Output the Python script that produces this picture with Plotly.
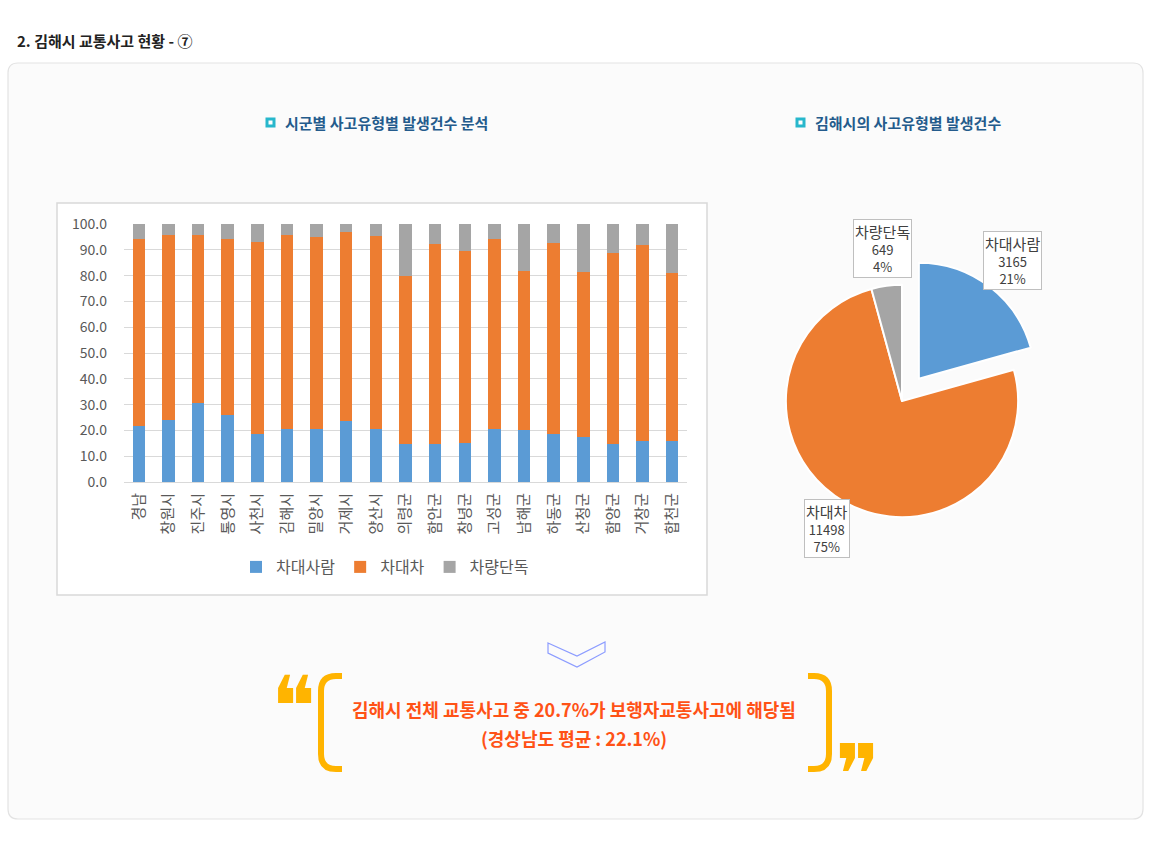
import plotly.graph_objects as go

# ---------------- data ----------------
regions = ["경남", "창원시", "진주시", "통영시", "사천시", "김해시", "밀양시", "거제시", "양산시",
           "의령군", "함안군", "창녕군", "고성군", "남해군", "하동군", "산청군", "함양군", "거창군", "합천군"]
car_person = [21.9, 24.1, 30.6, 25.8, 18.7, 20.7, 20.6, 23.5, 20.4,
              14.7, 14.7, 15.1, 20.4, 20.0, 18.7, 17.4, 14.7, 15.7, 15.7]
car_car = [72.3, 71.8, 65.3, 68.4, 74.2, 74.9, 74.4, 73.5, 75.0,
           65.3, 77.6, 74.4, 73.8, 61.8, 73.8, 64.1, 73.9, 76.2, 65.2]
car_single = [5.8, 4.1, 4.1, 5.8, 7.1, 4.4, 5.0, 3.0, 4.6,
              20.0, 7.7, 10.5, 5.8, 18.2, 7.5, 18.5, 11.4, 8.1, 19.1]
series_names = ["차대사람", "차대차", "차량단독"]
y_ticks = [0, 10, 20, 30, 40, 50, 60, 70, 80, 90, 100]

pie_labels = ["차대사람", "차대차", "차량단독"]
pie_values = [3165, 11498, 649]

# ---------------- styling ----------------
W, H = 1150, 850
COLORS = ["#5B9BD5", "#ED7D31", "#A5A5A5"]
FONT = "Noto Sans CJK KR"
GRAY_TXT = "#595959"


def px(x):
    return x / W


def py(y):
    return 1 - y / H


fig = go.Figure()

for name, vals, col in zip(series_names, [car_person, car_car, car_single], COLORS):
    fig.add_trace(go.Bar(x=regions, y=vals, name=name, marker=dict(color=col, line=dict(width=0)),
                         hoverinfo="skip"))

total = sum(pie_values)
fig.add_trace(go.Pie(
    labels=pie_labels, values=pie_values, sort=False, direction="clockwise", rotation=0,
    pull=[0.24, 0, 0], textinfo="none", showlegend=False, hoverinfo="skip",
    marker=dict(colors=COLORS, line=dict(color="white", width=2)),
    domain=dict(x=[px(758), px(1046)], y=[py(545), py(257)]),
))

shapes = []
# outer panel (rounded rect)
x0, y0, x1, y1, r = 8, 63, 1143, 819, 10
path = (f"M {px(x0 + r)},{py(y0)} L {px(x1 - r)},{py(y0)} Q {px(x1)},{py(y0)} {px(x1)},{py(y0 + r)} "
        f"L {px(x1)},{py(y1 - r)} Q {px(x1)},{py(y1)} {px(x1 - r)},{py(y1)} "
        f"L {px(x0 + r)},{py(y1)} Q {px(x0)},{py(y1)} {px(x0)},{py(y1 - r)} "
        f"L {px(x0)},{py(y0 + r)} Q {px(x0)},{py(y0)} {px(x0 + r)},{py(y0)} Z")
shapes.append(dict(type="path", xref="paper", yref="paper", path=path, fillcolor="#FBFBFB",
                   line=dict(color="#E3E3E3", width=1.2), layer="below"))
# bar chart frame
shapes.append(dict(type="rect", xref="paper", yref="paper", x0=px(57), x1=px(707), y0=py(595), y1=py(203),
                   fillcolor="white", line=dict(color="#D9D9D9", width=1.5), layer="below"))
# title icons
for ix in (267, 797):
    shapes.append(dict(type="rect", xref="paper", yref="paper", x0=px(ix), x1=px(ix + 7),
                       y0=py(126), y1=py(119), fillcolor="white", line=dict(color="#27B7CC", width=3)))
# chevron
chev = [(548, 643), (577, 656), (605, 642), (605, 652), (577, 667), (548, 653)]
cpath = "M " + " L ".join(f"{px(a)},{py(b)}" for a, b in chev) + " Z"
shapes.append(dict(type="path", xref="paper", yref="paper", path=cpath, line=dict(color="#8C9CFF", width=1.2)))
# brackets
GOLD = "#FFB400"
lb = [(342, 676), (336, 676), (321, 676), (321, 691), (321, 754), (321, 769), (336, 769), (342, 769)]
rb = [(808, 676), (814, 676), (829, 676), (829, 691), (829, 754), (829, 769), (814, 769), (808, 769)]
for b in (lb, rb):
    p = (f"M {px(b[0][0])},{py(b[0][1])} L {px(b[1][0])},{py(b[1][1])} "
         f"Q {px(b[2][0])},{py(b[2][1])} {px(b[3][0])},{py(b[3][1])} "
         f"L {px(b[4][0])},{py(b[4][1])} Q {px(b[5][0])},{py(b[5][1])} {px(b[6][0])},{py(b[6][1])} "
         f"L {px(b[7][0])},{py(b[7][1])}")
    shapes.append(dict(type="path", xref="paper", yref="paper", path=p, line=dict(color=GOLD, width=6)))

annotations = []
annotations.append(dict(text="<b>2. 김해시 교통사고 현황 - ⑦</b>", x=px(15), y=py(40), xref="paper", yref="paper",
                        xanchor="left", yanchor="middle", showarrow=False,
                        font=dict(family=FONT, size=15, color="#222222")))
annotations.append(dict(text="<b>시군별 사고유형별 발생건수 분석</b>", x=px(283), y=py(122), xref="paper", yref="paper",
                        xanchor="left", yanchor="middle", showarrow=False,
                        font=dict(family=FONT, size=15, color="#245B8C")))
annotations.append(dict(text="<b>김해시의 사고유형별 발생건수</b>", x=px(813), y=py(122), xref="paper", yref="paper",
                        xanchor="left", yanchor="middle", showarrow=False,
                        font=dict(family=FONT, size=15, color="#245B8C")))

# pie labels
label_pos = [(1012, 260), (827, 528), (882, 248)]
for lab, val, (lx, ly) in zip(pie_labels, pie_values, label_pos):
    pct = round(val / total * 100)
    annotations.append(dict(
        text=f"<span style='font-size:15px'>{lab}</span><br>{val}<br>{pct}%",
        x=px(lx), y=py(ly), xref="paper", yref="paper", xanchor="center", yanchor="middle",
        showarrow=False, align="center", bgcolor="white", bordercolor="#BFBFBF", borderwidth=1, borderpad=1,
        font=dict(family=FONT, size=13, color="#404040")))

# conclusion text
ORANGE = "#FF5216"
annotations.append(dict(text="<b>김해시 전체 교통사고 중 20.7%가 보행자교통사고에 해당됨</b>", x=px(574), y=py(709),
                        xref="paper", yref="paper", xanchor="center", yanchor="middle", showarrow=False,
                        font=dict(family=FONT, size=18, color=ORANGE)))
annotations.append(dict(text="<b>(경상남도 평균 : 22.1%)</b>", x=px(574), y=py(738),
                        xref="paper", yref="paper", xanchor="center", yanchor="middle", showarrow=False,
                        font=dict(family=FONT, size=18, color=ORANGE)))
annotations.append(dict(text="❝", x=px(293), y=py(707), xref="paper", yref="paper", xanchor="center",
                        yanchor="middle", showarrow=False, font=dict(family="DejaVu Sans", size=84, color=GOLD)))
annotations.append(dict(text="❞", x=px(857), y=py(775), xref="paper", yref="paper", xanchor="center",
                        yanchor="middle", showarrow=False, font=dict(family="DejaVu Sans", size=84, color=GOLD)))

fig.update_layout(
    width=W, height=H, margin=dict(l=0, r=0, t=0, b=0, autoexpand=False),
    paper_bgcolor="white", plot_bgcolor="rgba(0,0,0,0)",
    barmode="stack", bargap=0.58,
    font=dict(family=FONT, color=GRAY_TXT),
    xaxis=dict(domain=[px(124), px(687)], tickangle=-90, tickfont=dict(size=15, color=GRAY_TXT),
               showline=True, linecolor="#D9D9D9", ticks="", showgrid=False, automargin=False,
               ticklabelstandoff=4),
    yaxis=dict(domain=[py(482), py(224)], range=[0, 100], tickvals=y_ticks,
               ticktext=[f"{v:.1f}" for v in y_ticks], tickfont=dict(size=14, color=GRAY_TXT),
               showgrid=True, gridcolor="#D9D9D9", gridwidth=1, zeroline=False, ticks="",
               automargin=False, ticklabelstandoff=16),
    legend=dict(orientation="h", x=px(385), y=py(567), xanchor="center", yanchor="middle",
                font=dict(size=16, color=GRAY_TXT), bgcolor="rgba(0,0,0,0)", itemwidth=30,
                traceorder="normal"),
    shapes=shapes, annotations=annotations,
)

fig.write_html("out.html")
